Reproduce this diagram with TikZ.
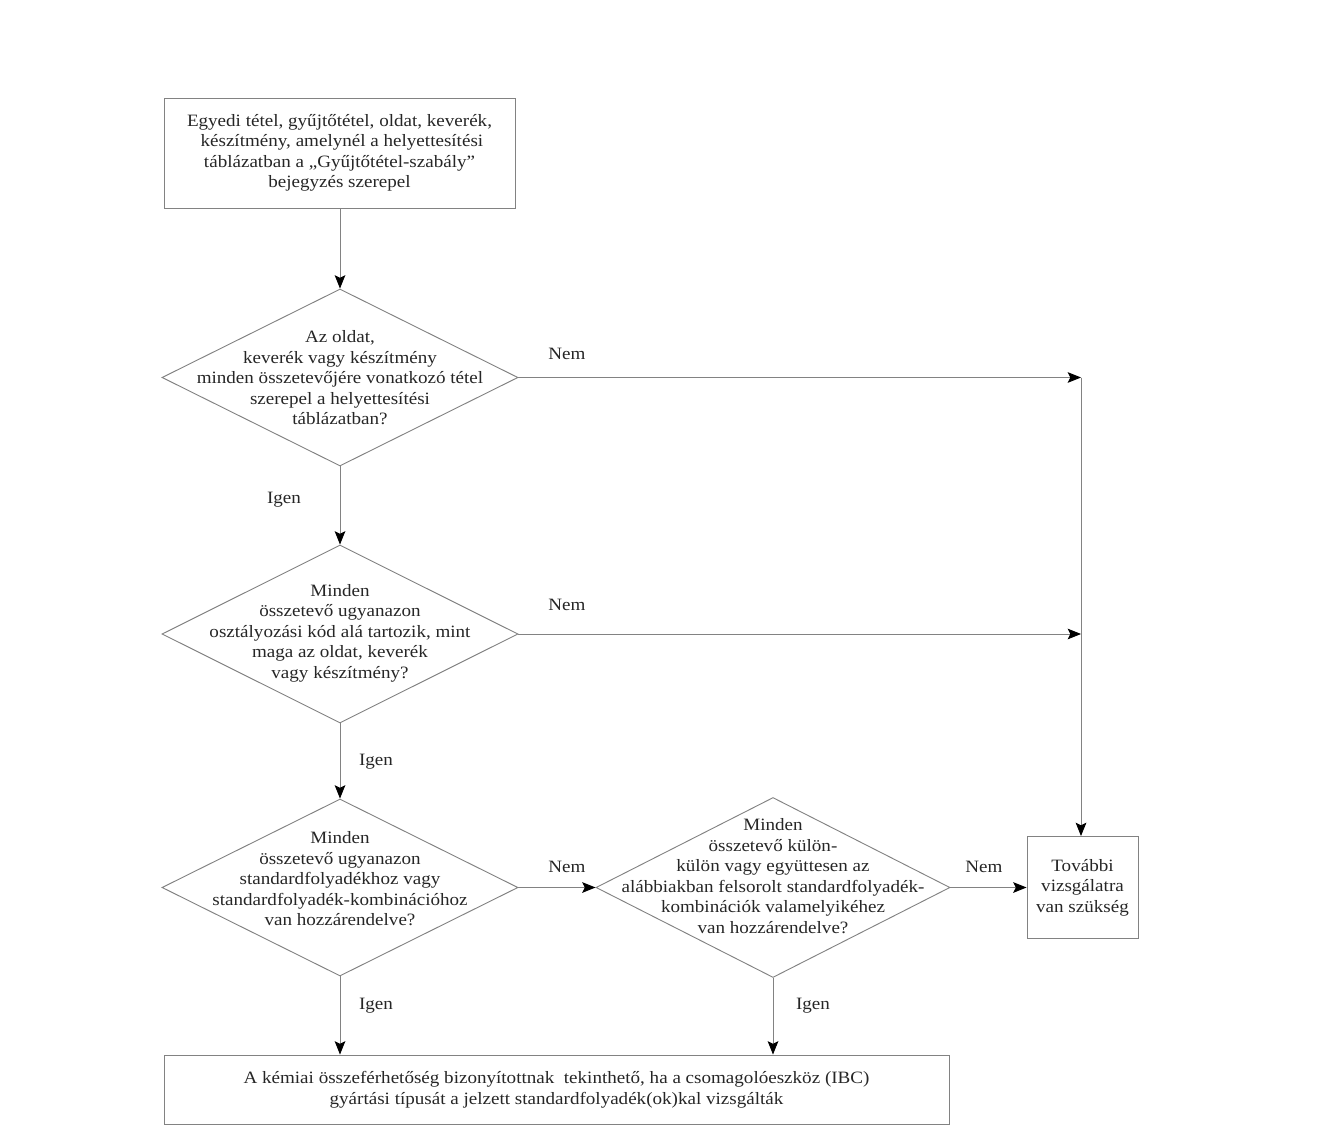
\documentclass[tikz,border=0pt]{standalone}
\usepackage{fontspec}
\setmainfont{Liberation Serif}[FakeStretch=1.1]
\usetikzlibrary{shapes.geometric,arrows.meta}
\definecolor{lncol}{RGB}{130,130,130}
\begin{document}
\begin{tikzpicture}[x=0.75pt,y=-0.75pt,
  txt/.style={font=\fontsize{13pt}{15.4pt}\selectfont, align=center, inner sep=0pt, text=black!85},
  boxnode/.style={draw=lncol, line width=0.7pt, rectangle, inner sep=0pt},
  dia/.style={draw=lncol, line width=0.7pt, diamond, inner sep=0pt, shape aspect=2},
  conn/.style={draw=lncol, line width=0.7pt, -{Stealth[black,length=10pt,width=8pt,inset=2pt]}},
  plain/.style={draw=lncol, line width=0.7pt}]
\useasboundingbox (0,0) rectangle (1317,1141);

\node[boxnode, minimum width=263.25pt, minimum height=82.5pt] (start) at (339.5,153) {};
\node[txt] at (start) {Egyedi tétel, gyűjtőtétel, oldat, keverék,\\ \ készítmény, amelynél a helyettesítési\\ táblázatban a „Gyűjtőtétel-szabály”\\ bejegyzés szerepel};

\node[dia, minimum width=267pt, minimum height=132.75pt] (d1) at (340,377.5) {};
\node[txt] at (340,378) {Az oldat,\\ keverék vagy készítmény\\ minden összetevőjére vonatkozó tétel\\ szerepel a helyettesítési\\ táblázatban?};

\node[dia, minimum width=267pt, minimum height=133.5pt] (d2) at (340,634) {};
\node[txt] at (340,633) {Minden\\ összetevő ugyanazon\\ osztályozási kód alá tartozik, mint\\ maga az oldat, keverék\\ vagy készítmény?};

\node[dia, minimum width=267pt, minimum height=132.75pt] (d3) at (340,887.5) {};
\node[txt] at (340,879) {Minden\\ összetevő ugyanazon\\ standardfolyadékhoz vagy\\ standardfolyadék-kombinációhoz\\ van hozzárendelve?};

\node[dia, minimum width=265.5pt, minimum height=135pt] (d4) at (773,887.5) {};
\node[txt] at (773,876) {Minden\\ összetevő külön-\\ külön vagy együttesen az\\ alábbiakban felsorolt standardfolyadék-\\ kombinációk valamelyikéhez\\ van hozzárendelve?};

\node[boxnode, minimum width=83.25pt, minimum height=76.5pt] (further) at (1082.5,887.5) {};
\node[txt] at (further) {További\\ vizsgálatra\\ van szükség};

\node[boxnode, minimum width=588.75pt, minimum height=51.75pt] (result) at (556.5,1089.5) {};
\node[txt] at (result) {A kémiai összeférhetőség bizonyítottnak \ tekinthető, ha a csomagolóeszköz (IBC)\\ gyártási típusát a jelzett standardfolyadék(ok)kal vizsgálták};

\coordinate (j1) at (1081,377.5);
\coordinate (j2) at (1081,634);

\draw[conn] (start.south -| d1.north) -- (d1.north);
\draw[conn] (d1.south) -- (d2.north);
\draw[conn] (d2.south) -- (d3.north);
\draw[conn] (d3.south) -- (d3.south |- result.north);
\draw[conn] (d4.south) -- (d4.south |- result.north);
\draw[conn] (d3.east) -- (d4.west);
\draw[conn] (d4.east) -- (further.west);
\draw[conn] (d1.east) -- (j1);
\draw[conn] (d2.east) -- (j2);
\draw[plain] (j1) -- (j2);
\draw[conn] (j2) -- (j2 |- further.north);

\node[txt] (n1) at (567,354) {Nem};
\node[txt] (n2) at (567,605) {Nem};
\node[txt] (n3) at (567,867) {Nem};
\node[txt] (n4) at (984,867) {Nem};
\node[txt] (i1) at (284,500) {Igen};
\node[txt] (i2) at (376,762) {Igen};
\node[txt] (i3) at (376,1006) {Igen};
\node[txt] (i4) at (813,1006) {Igen};
\end{tikzpicture}
\end{document}
